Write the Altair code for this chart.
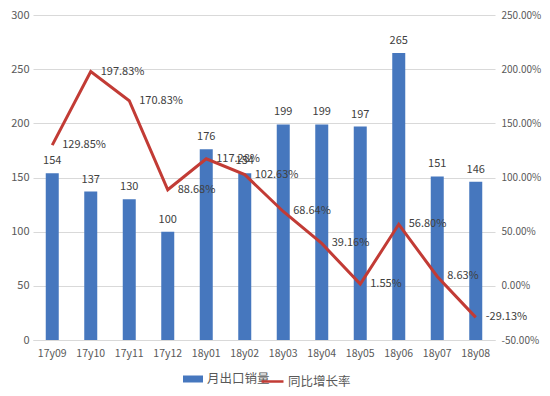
import altair as alt
import pandas as pd

months = ["17y09", "17y10", "17y11", "17y12", "18y01", "18y02",
          "18y03", "18y04", "18y05", "18y06", "18y07", "18y08"]
sales = [154, 137, 130, 100, 176, 154, 199, 199, 197, 265, 151, 146]
growth_pct = [129.85, 197.83, 170.83, 88.68, 117.28, 102.63,
              68.64, 39.16, 1.55, 56.80, 8.63, -29.13]

bar_name = "月出口销量"
line_name = "同比增长率"

df = pd.DataFrame({
    "month": months,
    "sales": sales,
    "growth": [g / 100 for g in growth_pct],
    "bar_s": bar_name,
    "line_s": line_name,
})

FONT = "Noto Sans CJK SC"
BLUE = "#4677BE"
RED = "#C23B35"
TXT = "#404040"

x = alt.X("month:N", sort=months, title=None,
          scale=alt.Scale(paddingInner=0, paddingOuter=0),
          axis=alt.Axis(labelAngle=0, ticks=False, domainColor="#D9D9D9",
                        labelColor="#595959", labelFontSize=10.5, labelPadding=8,
                        labelFont=FONT))

y_left = alt.Y("sales:Q", title=None,
               scale=alt.Scale(domain=[0, 300], nice=False),
               axis=alt.Axis(values=[0, 50, 100, 150, 200, 250, 300], ticks=False,
                             domain=False, gridColor="#D9D9D9", labelColor="#595959",
                             labelFontSize=11, labelPadding=4, labelFont=FONT))

y_right = alt.Y("growth:Q", title=None,
                scale=alt.Scale(domain=[-0.5, 2.5], nice=False),
                axis=alt.Axis(orient="right", format=".2%",
                              labelExpr="replace(datum.label, '\u2212', '-')",
                              values=[-0.5, 0, 0.5, 1.0, 1.5, 2.0, 2.5],
                              ticks=False, domain=False, grid=False,
                              labelColor="#595959", labelFontSize=10,
                              labelPadding=6, labelFont=FONT))

base = alt.Chart(df)

bars = base.mark_bar(size=13).encode(
    x=x, y=y_left,
    color=alt.Color("bar_s:N", title=None,
                    scale=alt.Scale(domain=[bar_name], range=[BLUE]),
                    legend=alt.Legend(orient="none", legendX=150, legendY=354,
                                      symbolType="M-1,-0.35H1V0.35H-1Z",
                                      symbolSize=400, symbolStrokeWidth=0,
                                      labelFontSize=12.5, labelColor="#595959",
                                      labelFont=FONT, labelOffset=4, padding=0)),
)

bar_text = base.mark_text(baseline="bottom", dy=-7, fontSize=11, color=TXT,
                          font=FONT).encode(x=x, y=y_left, text="sales:Q")

left = alt.layer(bars, bar_text)

line = base.mark_line(strokeWidth=3).encode(
    x=x, y=y_right,
    stroke=alt.Stroke("line_s:N", title=None,
                      scale=alt.Scale(domain=[line_name], range=[RED]),
                      legend=alt.Legend(orient="none", legendX=227, legendY=354,
                                        symbolType="stroke", symbolSize=484,
                                        symbolStrokeWidth=2.5,
                                        labelFontSize=12.5, labelColor="#595959",
                                        labelFont=FONT, labelOffset=3, padding=0)),
)

line_text = base.transform_calculate(
    lbl="replace(format(datum.growth, '.2%'), '\u2212', '-')"
).mark_text(align="left", baseline="middle", dx=10, fontSize=11,
            color=TXT, font=FONT).encode(x=x, y=y_right, text="lbl:N")

right = alt.layer(line, line_text)

chart = alt.layer(left, right).resolve_scale(
    y="independent", color="independent", stroke="independent"
).properties(
    width=462, height=325,
    autosize=alt.AutoSizeParams(type="none"),
    padding={"left": 25, "top": 7, "right": 47, "bottom": 48},
    background="white",
).configure_view(stroke=None)

chart.save("out.html", embed_options={"renderer": "svg", "actions": False})
